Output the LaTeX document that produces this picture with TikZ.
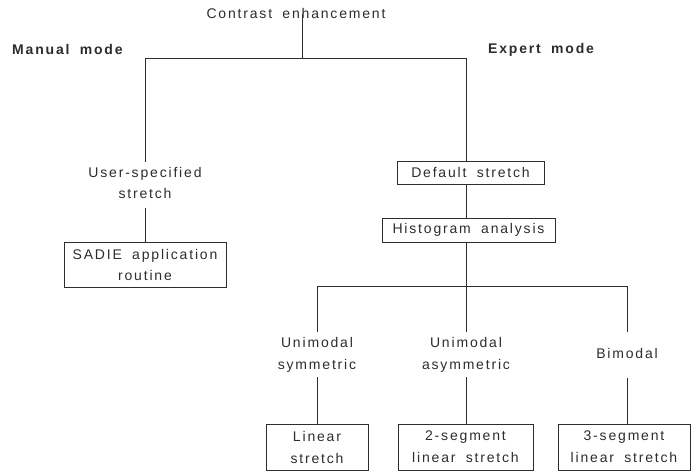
\documentclass[tikz,border=0pt]{standalone}
\usepackage{fontspec}
\setmainfont{Liberation Sans}[LetterSpace=13,WordSpace=1.8]
\definecolor{ink}{RGB}{45,45,45}
\begin{document}
\begin{tikzpicture}[x=1pt,y=-1pt,
  every node/.style={text=ink, inner sep=0pt},
  lbl/.style={font=\fontsize{14}{22}\selectfont, align=center},
  lbltight/.style={font=\fontsize{14}{21}\selectfont, align=center},
  hdr/.style={font=\fontsize{14}{17}\selectfont\bfseries},
  boxnode/.style={draw=ink, line width=1pt, align=center},
  conn/.style={draw=ink, line width=0.9pt}]
\useasboundingbox[fill=white] (0,0) rectangle (695,472);

% headings
\node[lbl, anchor=base] (title) at (296,18) {Contrast enhancement};
\node[hdr, anchor=base west] (manual) at (12,54) {Manual mode};
\node[hdr, anchor=base west] (expert) at (488,53) {Expert mode};

% junctions
\coordinate (jt) at (302,58);
\coordinate (L) at (145,58);
\coordinate (R) at (466,58);
\coordinate (jb) at (466,286);
\coordinate (b1) at (317,286);
\coordinate (b3) at (627,286);

% manual branch
\node[lbltight, anchor=north] (user) at (145,167) {User-specified\\stretch};
\node[boxnode, lbltight, minimum width=162pt, minimum height=45pt] (sadie) at (145,264.5) {SADIE application\\routine};

% expert branch
\node[boxnode, lbl, minimum width=147pt, minimum height=23pt] (def) at (470.5,172.5) {Default stretch};
\node[boxnode, lbl, minimum width=173pt, minimum height=24pt] (hist) at (468.5,230) {Histogram analysis};

\node[lbl, anchor=north] (sym) at (317,337) {Unimodal\\symmetric};
\node[lbl, anchor=north] (asym) at (466,337) {Unimodal\\asymmetric};
\node[lbl, anchor=north] (bim) at (627,348) {Bimodal};

\node[boxnode, lbl, minimum width=102pt, minimum height=46pt] (lin) at (317,447) {Linear\\stretch};
\node[boxnode, lbl, minimum width=135pt, minimum height=46pt] (seg2) at (465.5,447) {2-segment\\linear stretch};
\node[boxnode, lbl, minimum width=132pt, minimum height=46pt] (seg3) at (624,447) {3-segment\\linear stretch};

% connectors
\draw[conn] (jt |- title.south) ++(0,-4) -- (jt);
\draw[conn] (jt) -- (L) -- ([yshift=5pt]L |- user.north);
\draw[conn] (jt) -- (R) -- (R |- def.north);
\draw[conn] ([yshift=-9pt]user.south) -- (sadie.north);
\draw[conn] (R |- def.south) -- (R |- hist.north);
\draw[conn] (R |- hist.south) -- (jb);
\draw[conn] (b1) -- (b3);
\draw[conn] (b1) -- ([yshift=5pt]b1 |- sym.north);
\draw[conn] (jb) -- ([yshift=5pt]jb |- asym.north);
\draw[conn] (b3) -- ([yshift=16pt]b3 |- bim.north);
\draw[conn] ([yshift=-5pt]b1 |- sym.south) -- (b1 |- lin.north);
\draw[conn] ([yshift=-5pt]jb |- asym.south) -- (jb |- seg2.north);
\draw[conn] ([yshift=-19pt]b3 |- bim.south) -- (b3 |- seg3.north);
\end{tikzpicture}
\end{document}
